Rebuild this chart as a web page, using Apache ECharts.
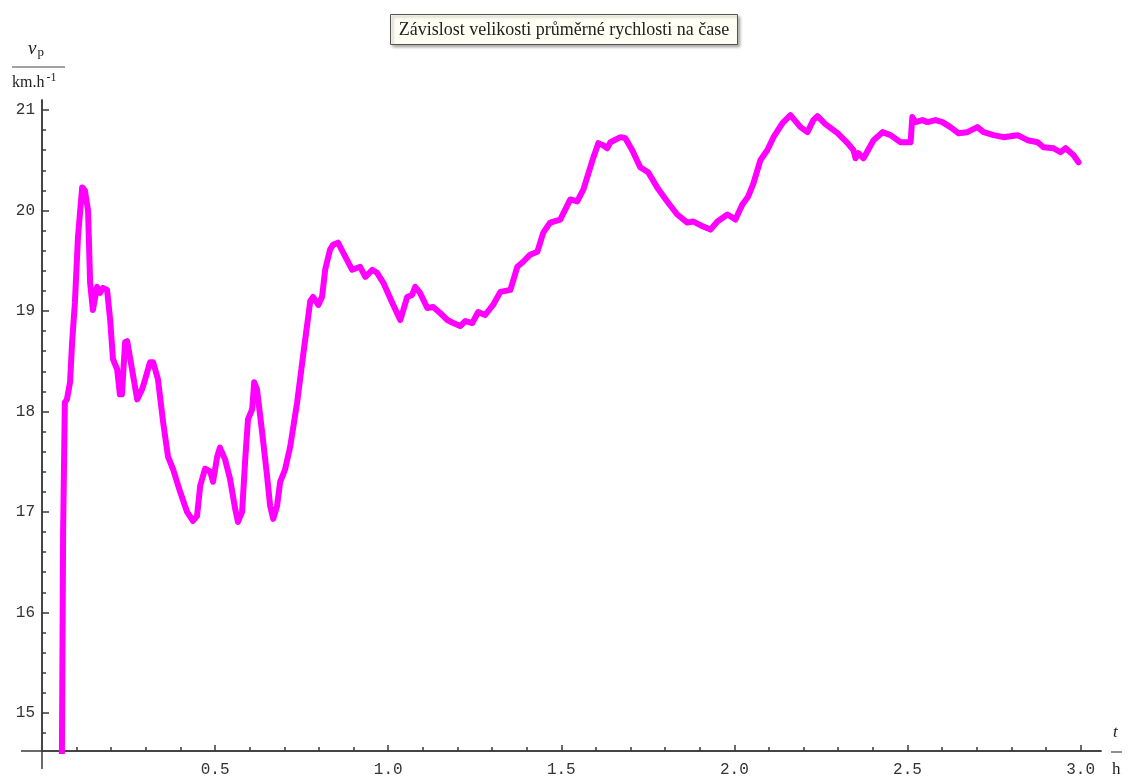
<!DOCTYPE html>
<html>
<head>
<meta charset="utf-8">
<script src="https://cdn.jsdelivr.net/npm/echarts@6/dist/echarts.min.js"></script>
<style>
  html, body { margin: 0; padding: 0; background: #ffffff; }
  #chart { width: 1128px; height: 778px; }
</style>
</head>
<body>
<div id="chart"></div>
<script>
// Time in hours since start
const timeH = [
  0.055, 0.061, 0.066, 0.072, 0.081, 0.087, 0.095, 0.104, 0.116, 0.124,
  0.133, 0.139, 0.147, 0.159, 0.168, 0.176, 0.188, 0.197, 0.205, 0.217,
  0.225, 0.231, 0.240, 0.246, 0.260, 0.275, 0.289, 0.298, 0.312, 0.321,
  0.335, 0.350, 0.364, 0.379, 0.399, 0.419, 0.436, 0.448, 0.457, 0.471,
  0.486, 0.494, 0.506, 0.514, 0.529, 0.543, 0.558, 0.566, 0.578, 0.587,
  0.595, 0.607, 0.613, 0.621, 0.636, 0.650, 0.659, 0.668, 0.679, 0.688,
  0.702, 0.717, 0.737, 0.754, 0.775, 0.783, 0.798, 0.809, 0.818, 0.832,
  0.841, 0.855, 0.870, 0.896, 0.919, 0.934, 0.954, 0.968, 0.986, 1.012,
  1.035, 1.055, 1.069, 1.078, 1.092, 1.113, 1.130, 1.150, 1.171, 1.188,
  1.208, 1.223, 1.243, 1.260, 1.280, 1.303, 1.324, 1.353, 1.373, 1.390,
  1.410, 1.431, 1.448, 1.468, 1.497, 1.526, 1.546, 1.564, 1.590, 1.607,
  1.621, 1.633, 1.642, 1.671, 1.685, 1.705, 1.728, 1.751, 1.777, 1.806,
  1.835, 1.864, 1.882, 1.910, 1.931, 1.951, 1.980, 2.003, 2.023, 2.040,
  2.055, 2.075, 2.095, 2.113, 2.139, 2.162, 2.191, 2.211, 2.228, 2.240,
  2.263, 2.298, 2.327, 2.344, 2.350, 2.358, 2.373, 2.402, 2.428, 2.451,
  2.480, 2.509, 2.514, 2.523, 2.543, 2.558, 2.581, 2.601, 2.624, 2.647,
  2.673, 2.702, 2.720, 2.749, 2.777, 2.818, 2.847, 2.876, 2.893, 2.922,
  2.942, 2.957, 2.980, 2.994
];

// Average speed in km/h
const avgSpeed = [
  13.00, 16.80, 18.09, 18.12, 18.29, 18.69, 19.08, 19.74, 20.23, 20.20,
  20.00, 19.28, 19.01, 19.24, 19.18, 19.23, 19.21, 18.91, 18.52, 18.42,
  18.17, 18.17, 18.69, 18.70, 18.42, 18.12, 18.22, 18.32, 18.49, 18.49,
  18.32, 17.89, 17.55, 17.42, 17.20, 17.00, 16.91, 16.96, 17.26, 17.43,
  17.40, 17.30, 17.55, 17.64, 17.52, 17.33, 17.03, 16.90, 17.00, 17.52,
  17.92, 18.02, 18.29, 18.22, 17.79, 17.36, 17.06, 16.93, 17.06, 17.30,
  17.42, 17.65, 18.09, 18.55, 19.10, 19.14, 19.06, 19.14, 19.41, 19.61,
  19.66, 19.68, 19.58, 19.41, 19.44, 19.34, 19.41, 19.38, 19.28, 19.08,
  18.91, 19.14, 19.16, 19.24, 19.18, 19.03, 19.04, 18.98, 18.91, 18.88,
  18.85, 18.90, 18.88, 18.99, 18.96, 19.06, 19.19, 19.21, 19.44, 19.49,
  19.56, 19.59, 19.78, 19.88, 19.91, 20.11, 20.09, 20.21, 20.50, 20.67,
  20.65, 20.62, 20.68, 20.73, 20.72, 20.60, 20.43, 20.38, 20.23, 20.09,
  19.96, 19.88, 19.89, 19.84, 19.81, 19.89, 19.96, 19.91, 20.06, 20.14,
  20.27, 20.50, 20.60, 20.73, 20.87, 20.95, 20.83, 20.78, 20.90, 20.94,
  20.86, 20.77, 20.67, 20.60, 20.52, 20.57, 20.52, 20.70, 20.78, 20.75,
  20.68, 20.68, 20.93, 20.88, 20.90, 20.88, 20.90, 20.88, 20.83, 20.77,
  20.78, 20.83, 20.78, 20.75, 20.73, 20.75, 20.70, 20.68, 20.63, 20.62,
  20.58, 20.62, 20.55, 20.48
];

// Axis ticks
const xMajorTicks = [0.5, 1.0, 1.5, 2.0, 2.5, 3.0];
const xMinorTicks = [0.1, 0.2, 0.3, 0.4, 0.6, 0.7, 0.8, 0.9, 1.1, 1.2, 1.3, 1.4,
  1.6, 1.7, 1.8, 1.9, 2.1, 2.2, 2.3, 2.4, 2.6, 2.7, 2.8, 2.9];
const yMajorTicks = [15, 16, 17, 18, 19, 20, 21];
const yMinorTicks = [14.8, 15.2, 15.4, 15.6, 15.8, 16.2, 16.4, 16.6, 16.8,
  17.2, 17.4, 17.6, 17.8, 18.2, 18.4, 18.6, 18.8, 19.2, 19.4, 19.6, 19.8,
  20.2, 20.4, 20.6, 20.8];

const X_MIN = 0, X_MAX = 3.059;
const Y_MIN = 14.62, Y_MAX = 21.1;

const axisColor = '#3a3a3a';
const tickFont = { fontFamily: '"Liberation Mono", "DejaVu Sans Mono", monospace', fontSize: 16, color: '#333' };

const seriesData = timeH.map((t, i) => [t, avgSpeed[i]]);

function xAxisDef(ticks, len, labels) {
  return {
    type: 'value', position: 'bottom', min: X_MIN, max: X_MAX,
    axisLine: { show: true, lineStyle: { color: axisColor, width: 1.5 } },
    axisTick: { show: true, inside: true, length: len, customValues: ticks,
      lineStyle: { color: axisColor, width: 1.5 } },
    axisLabel: labels ? Object.assign({ show: true, margin: 11, customValues: ticks,
      formatter: v => v.toFixed(1) }, tickFont) : { show: false },
    splitLine: { show: false }
  };
}
function yAxisDef(ticks, len, labels) {
  return {
    type: 'value', position: 'left', min: Y_MIN, max: Y_MAX,
    axisLine: { show: true, lineStyle: { color: axisColor, width: 1.5 } },
    axisTick: { show: true, inside: true, length: len, customValues: ticks,
      lineStyle: { color: axisColor, width: 1.5 } },
    axisLabel: labels ? Object.assign({ show: true, margin: 7, customValues: ticks,
      formatter: v => String(v) }, tickFont) : { show: false },
    splitLine: { show: false }
  };
}

const chart = echarts.init(document.getElementById('chart'), null, { renderer: 'canvas' });

const serif = '"Liberation Serif", "DejaVu Serif", serif';

chart.setOption({
  animation: false,
  backgroundColor: '#ffffff',
  title: {
    text: 'Závislost velikosti průměrné rychlosti na čase',
    left: 'center',
    top: 14,
    padding: [7, 9, 6, 9],
    backgroundColor: '#fffff4',
    borderColor: '#555',
    borderWidth: 1,
    shadowColor: 'rgba(0,0,0,0.35)',
    shadowBlur: 3,
    shadowOffsetX: 2,
    shadowOffsetY: 2,
    textStyle: { fontFamily: serif, fontSize: 18, fontWeight: 'normal', color: '#222' }
  },
  grid: { left: 42, right: 27, top: 100, bottom: 26, containLabel: false },
  xAxis: [xAxisDef(xMinorTicks, 4, false), xAxisDef(xMajorTicks, 6, true)],
  yAxis: [yAxisDef(yMinorTicks, 4, false), yAxisDef(yMajorTicks, 7, true)],
  series: [{
    type: 'line',
    data: seriesData,
    showSymbol: false,
    clip: true,
    lineStyle: { color: '#ff00ff', width: 6, join: 'round', cap: 'round' },
    itemStyle: { color: '#ff00ff' }
  }]
});

// Axis extensions past the origin, and the axis captions
const origin = chart.convertToPixel({ xAxisIndex: 0, yAxisIndex: 0 }, [X_MIN, Y_MIN]);
chart.setOption({
  graphic: [
    { type: 'line', shape: { x1: origin[0] - 21, y1: origin[1], x2: origin[0], y2: origin[1] },
      style: { stroke: axisColor, lineWidth: 1.5 } },
    { type: 'line', shape: { x1: origin[0], y1: origin[1], x2: origin[0], y2: origin[1] + 18 },
      style: { stroke: axisColor, lineWidth: 1.5 } },
    // y caption: v_p over km.h^-1
    { type: 'text', left: 28, top: 39,
      style: { text: '{v|v}{s|p}', rich: {
        v: { fontFamily: serif, fontStyle: 'italic', fontSize: 19, fill: '#222' },
        s: { fontFamily: serif, fontSize: 13, fill: '#222', padding: [9, 0, 0, 1] } } } },
    { type: 'line', shape: { x1: 12, y1: 67, x2: 65, y2: 67 }, style: { stroke: '#444', lineWidth: 1.2 } },
    { type: 'text', left: 12, top: 72,
      style: { text: '{k|km.h}{e|-1}', rich: {
        k: { fontFamily: serif, fontSize: 16, fill: '#222' },
        e: { fontFamily: serif, fontSize: 12, fill: '#222', padding: [0, 0, 9, 2] } } } },
    // x caption: t over h
    { type: 'text', left: 1113, top: 724,
      style: { text: 't', fontFamily: serif, fontStyle: 'italic', fontSize: 17, fill: '#222' } },
    { type: 'line', shape: { x1: 1111, y1: 752, x2: 1122, y2: 752 }, style: { stroke: '#444', lineWidth: 1.2 } },
    { type: 'text', left: 1112, top: 761,
      style: { text: 'h', fontFamily: serif, fontSize: 17, fill: '#222' } }
  ]
});
</script>
</body>
</html>
